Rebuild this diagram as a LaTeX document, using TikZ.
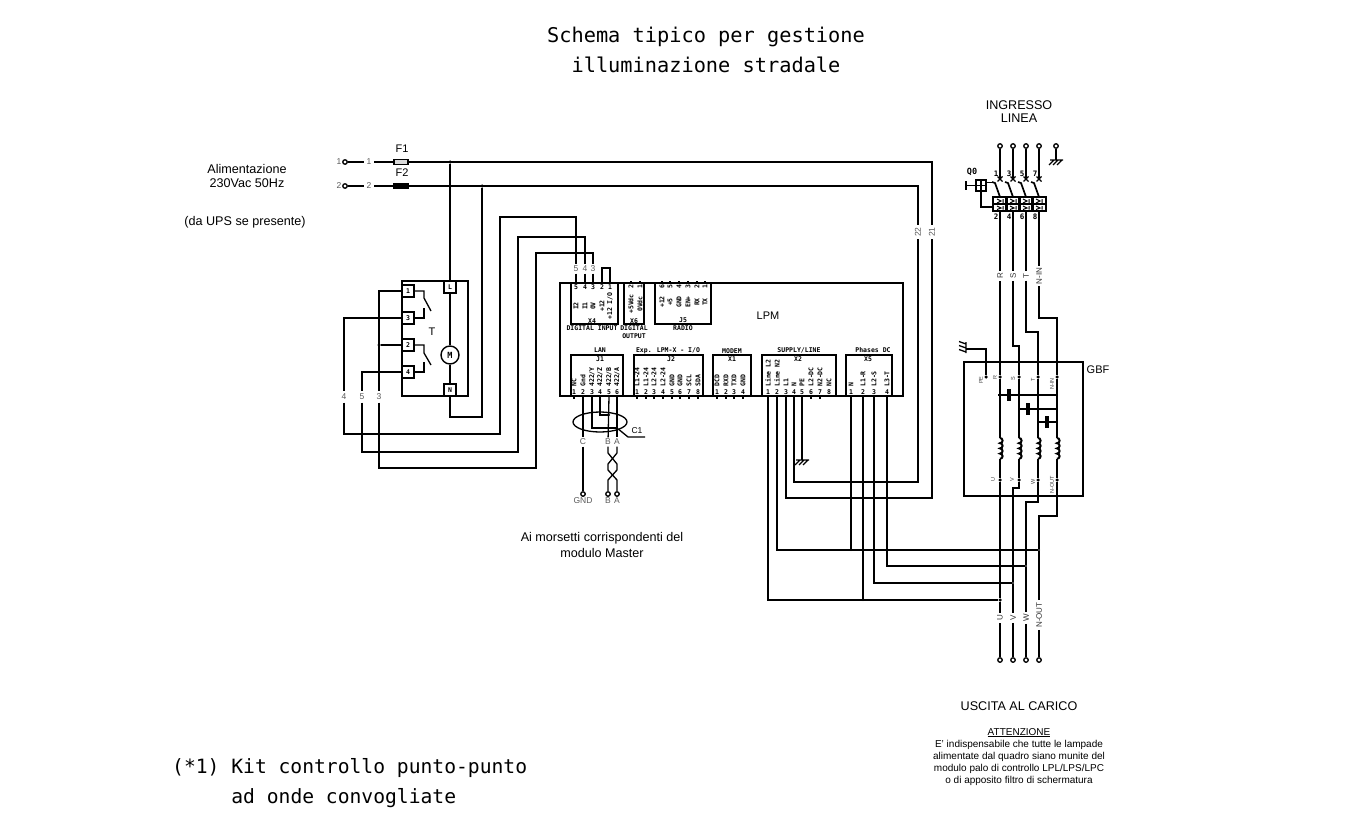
\documentclass[tikz,border=0pt]{standalone}
\usepackage{fontspec}
\setmainfont{Liberation Sans}
\newfontfamily\cadmono{DejaVu Sans Mono}
\usetikzlibrary{arrows.meta,positioning}
\tikzset{
	wire/.style={draw,line width=1.3pt},
	thickwire/.style={draw,line width=1.7pt},
	coilwire/.style={draw,line width=2pt},
	term/.style={circle,draw,fill=white,line width=1.3pt,inner sep=0pt,minimum size=4.5pt},
	jointdot/.style={circle,fill=black,inner sep=0pt,minimum size=3.5pt},
	tinydot/.style={circle,fill=black,inner sep=0pt,minimum size=2.4pt},
	wirelab/.style={font=\fontsize{8.5}{9}\selectfont,text=black!65,inner sep=2.5pt},
	gbflab/.style={font=\fontsize{5.5}{6}\selectfont,text=black!75,rotate=90,inner sep=0pt},
	outlab/.style={font=\fontsize{8}{9}\selectfont,text=black!80,rotate=90,inner sep=2pt},
	pinnum/.style={font=\cadmono\bfseries\fontsize{6.5}{7}\selectfont,inner sep=0pt,minimum height=8pt,minimum width=5pt},
	pinsig/.style={font=\cadmono\bfseries\fontsize{6.5}{7}\selectfont,inner sep=0pt,rotate=90},
	connlab/.style={font=\cadmono\bfseries\fontsize{6.5}{7.8}\selectfont,inner sep=0pt,align=center},
	connbox/.style={draw,line width=1.3pt,rectangle,inner sep=0pt,outer sep=0pt,anchor=north west},
	relterm/.style={draw,line width=1.4pt,fill=white,rectangle,inner sep=0pt,minimum width=12pt,minimum height=12pt,font=\cadmono\bfseries\fontsize{6.5}{7}\selectfont},
	note/.style={font=\fontsize{12.6}{14}\selectfont,align=center,inner sep=0pt},
	smallnote/.style={font=\fontsize{11}{13}\selectfont,align=center,inner sep=0pt},
	cadtext/.style={font=\cadmono\fontsize{20.3}{30}\selectfont,inner sep=0pt,align=center},
	capblock/.style={fill=black,rectangle,inner sep=0pt,minimum width=4.5pt,minimum height=12pt}
}
\newcommand{\earthmark}[1]{\draw[wire,shift={(#1)}] (-6,0) -- (7,0) (-2,0) -- (-7,5) (2,0) -- (-3,5) (6,0) -- (1,5);}
\newcommand{\coilbumps}[1]{\draw[coilwire] (#1) arc (90:-90:2.6pt) arc (90:-90:2.6pt) arc (90:-90:2.6pt) arc (90:-90:2.6pt);}
\begin{document}
\begin{tikzpicture}[x=1pt,y=-1pt]
	\useasboundingbox (0,0) rectangle (1348,827);
	\node[cadtext] (title) at (706,50) {Schema tipico per gestione\\illuminazione stradale};
	\node[cadtext,anchor=north west,align=left,font=\cadmono\fontsize{19.65}{30.5}\selectfont] (kit) at (172,758) {(*1) Kit controllo punto-punto\\\hphantom{(*1) }ad onde convogliate};
	\node[note] (supply) at (247,176) {Alimentazione\\230Vac 50Hz};
	\node[note] (ups) at (245,222) {(da UPS se presente)};
	\node[note,font=\fontsize{12.6}{13}\selectfont] (ingresso) at (1019,112) {INGRESSO\\LINEA};
	\node[note,font=\fontsize{12.6}{16}\selectfont] (master) at (602,545) {Ai morsetti corrispondenti del\\modulo Master};
	\node[note] (uscita) at (1019,706) {USCITA AL CARICO};
	\node[note,font=\fontsize{10}{12.2}\selectfont] (warn) at (1019,757) {\underline{ATTENZIONE}\\E' indispensabile che tutte le lampade\\alimentate dal quadro siano munite del\\modulo palo di controllo LPL/LPS/LPC\\o di apposito filtro di schermatura};
	
	\node[term] (inone) at (345,162) {};
	\node[term] (intwo) at (345,186) {};
	\node[wirelab,left=0pt of inone,inner sep=0.5pt] (inonelab) {1};
	\node[wirelab,left=0pt of intwo,inner sep=0.5pt] (intwolab) {2};
	\node[wirelab] (wone) at (369,162) {1};
	\node[wirelab] (wtwo) at (369,186) {2};
	\node[draw,line width=1.4pt,fill=black!15,rectangle,inner sep=0pt,minimum width=14pt,minimum height=5pt] (fuseone) at (401,162) {};
	\node[draw,line width=1.4pt,fill=black,rectangle,inner sep=0pt,minimum width=14pt,minimum height=5pt] (fusetwo) at (401,186) {};
	\node[smallnote] (fuseonelab) at (402,149) {F1};
	\node[smallnote] (fusetwolab) at (402,173) {F2};
	\node[jointdot] (dotone) at (450,162) {};
	\node[jointdot] (dottwo) at (482,186) {};
	\node[wirelab,rotate=90] (wtwentyone) at (932,232) {21};
	\node[wirelab,rotate=90] (wtwentytwo) at (918,232) {22};
	\draw[wire] (inone) -- (wone);
	\draw[wire] (intwo) -- (wtwo);
	\draw[wire] (wone) -- (fuseone);
	\draw[wire] (wtwo) -- (fusetwo);
	\draw[thickwire] (fuseone) -- (421,162);
	\draw[wire] (fuseone) -- (932,162) -- (wtwentyone);
	\draw[wire] (fusetwo) -- (918,186) -- (wtwentytwo);
	
	\node[connbox,minimum width=66pt,minimum height=115pt] (relay) at (402,281) {};
	\draw[line width=1.7pt] (relay.north west) -- (relay.south west);
	\node[relterm] (rone) at (408,291) {1};
	\node[relterm] (rthree) at (408,318) {3};
	\node[relterm] (rtwo) at (408,345) {2};
	\node[relterm] (rfour) at (408,372) {4};
	\node[relterm] (rel) at (450,287) {L};
	\node[relterm] (ren) at (450,390) {N};
	\node[circle,draw,line width=1.4pt,inner sep=0pt,minimum size=18pt,font=\cadmono\bfseries\fontsize{8.5}{9}\selectfont] (motor) at (450,355) {M};
	\node[smallnote] (relaylab) at (432,332) {T};
	\node[jointdot] (dotrel) at (379,345) {};
	\node[wirelab] (wlfour) at (344,397) {4};
	\node[wirelab] (wlfive) at (362,397) {5};
	\node[wirelab] (wlthree) at (379,397) {3};
	\draw[wire] (dotone) -- (rel);
	\draw[wire] (rel) -- (motor);
	\draw[wire] (motor) -- (ren);
	\draw[wire] (ren) -- (450,417) -| (dottwo);
	\draw[wire] (rone.east) -- (424,291) -- (424,298) -- (431,311);
	\draw[wire] (rthree.east) -- (424,318) -- (424,308);
	\draw[wire] (rtwo.east) -- (424,345) -- (424,353) -- (431,365);
	\draw[wire] (rfour.east) -- (424,372) -- (424,362);
	\draw[wire] (rone.west) -| (wlthree);
	\draw[wire] (rthree.west) -| (wlfour);
	\draw[wire] (rfour.west) -| (wlfive);
	\draw[wire] (rtwo.west) -- (dotrel);
	
	\node[connbox,minimum width=343pt,minimum height=113pt,line width=1.7pt] (lpm) at (560,283) {};
	\node[smallnote] (lpmlab) at (768,316) {LPM};
	\node[connbox,minimum width=47pt,minimum height=41pt] (Xfour) at (571,283) {};
	\node[connbox,minimum width=20pt,minimum height=41pt] (Xsix) at (624,283) {};
	\node[connbox,minimum width=56pt,minimum height=41pt] (Jfive) at (655,283) {};
	\node[connbox,minimum width=52pt,minimum height=41pt] (Jone) at (571,355) {};
	\node[connbox,minimum width=69pt,minimum height=41pt] (Jtwo) at (634,355) {};
	\node[connbox,minimum width=38pt,minimum height=41pt] (Xone) at (713,355) {};
	\node[connbox,minimum width=74pt,minimum height=41pt] (Xtwo) at (762,355) {};
	\node[connbox,minimum width=46pt,minimum height=41pt] (Xfive) at (846,355) {};
	
	\foreach \x/\n/\s in {576/5/I2,585/4/I1,593/3/0V,602/2/+12,610/1/{+12 I/O}} {
		\node[pinnum] (Xfour-\n) at (\x,287) {\n};
		\node[pinsig] (Xfours-\n) at (\x,306) {\s};
	}
	\foreach \x/\n/\s in {631/2/+5Vdc,640/1/0Vdc} {
		\node[pinnum,rotate=90] (Xsix-\n) at (\x,287) {\n};
		\node[pinsig] (Xsixs-\n) at (\x,304) {\s};
		\draw[wire] (\x,283) -- (\x,280.5);
	}
	\foreach \x/\n/\s in {662/6/+12,670/5/+5,679/4/GND,688/3/EN+,697/2/RX,705/1/TX} {
		\node[pinnum,rotate=90] (Jfive-\n) at (\x,287) {\n};
		\node[pinsig] (Jfives-\n) at (\x,302) {\s};
		\draw[wire] (\x,283) -- (\x,280.5);
	}
	\foreach \x/\s [count=\n] in {574/NC,583/Gnd,592/{422/Y},600/{422/Z},609/{422/B},617/{422/A}} {
		\node[pinnum] (Jone-\n) at (\x,392) {\n};
		\node[pinsig,anchor=west] (Jones-\n) at (\x,387) {\s};
	}
	\draw[wire] (574,396) -- (574,398.5);
	\foreach \x/\s [count=\n] in {637/L1-24,646/L1-24,654/L2-24,663/L2-24,672/GND,680/GND,689/SCL,698/SDA} {
		\node[pinnum] (Jtwo-\n) at (\x,392) {\n};
		\node[pinsig,anchor=west] (Jtwos-\n) at (\x,387) {\s};
		\draw[wire] (\x,396) -- (\x,398.5);
	}
	\foreach \x/\s [count=\n] in {717/DCD,726/RXD,734/TXD,743/GND} {
		\node[pinnum] (Xone-\n) at (\x,392) {\n};
		\node[pinsig,anchor=west] (Xones-\n) at (\x,387) {\s};
		\draw[wire] (\x,396) -- (\x,398.5);
	}
	\foreach \x/\s [count=\n] in {768/Line L2,777/Line N2,786/L1,794/N,802/PE,811/L2-DC,820/N2-DC,829/NC} {
		\node[pinnum] (Xtwo-\n) at (\x,392) {\n};
		\node[pinsig,anchor=west] (Xtwos-\n) at (\x,387) {\s};
	}
	\draw[wire] (811,396) -- (811,398.5);
	\draw[wire] (820,396) -- (820,398.5);
	\foreach \x/\s [count=\n] in {851/N,863/L1-R,874/L2-S,887/L3-T} {
		\node[pinnum] (Xfive-\n) at (\x,392) {\n};
		\node[pinsig,anchor=west] (Xfives-\n) at (\x,387) {\s};
	}
	\node[connlab] (Xfourlab) at (592,321) {X4};
	\node[connlab] (Xfourname) at (592,328) {DIGITAL INPUT};
	\node[connlab] (Xsixlab) at (634,321) {X6};
	\node[connlab] (Xsixname) at (634,332) {DIGITAL\\OUTPUT};
	\node[connlab] (Jfivelab) at (683,320) {J5};
	\node[connlab] (Jfivename) at (683,328) {RADIO};
	\node[connlab] (Jonelab) at (600,359) {J1};
	\node[connlab] (Jonename) at (600,350) {LAN};
	\node[connlab] (Jtwolab) at (671,359) {J2};
	\node[connlab] (Jtwoname) at (668,351) {Exp. LPM-X - I/O};
	\node[connlab] (Xonelab) at (732,359) {X1};
	\node[connlab] (Xonename) at (732,351) {MODEM};
	\node[connlab] (Xtwolab) at (798,359) {X2};
	\node[connlab] (Xtwoname) at (799,350) {SUPPLY/LINE};
	\node[connlab] (Xfivelab) at (868,359) {X5};
	\node[connlab] (Xfivename) at (873,350) {Phases DC};
	
	\node[wirelab,inner sep=1.5pt] (wtfive) at (576,269) {5};
	\node[wirelab,inner sep=1.5pt] (wtfour) at (585,269) {4};
	\node[wirelab,inner sep=1.5pt] (wtthree) at (593,269) {3};
	\draw[wire] (wlfour) -- (344,434) -- (500,434) -- (500,217) -| (wtfive);
	\draw[wire] (wlfive) -- (362,452) -- (518,452) -- (518,237) -| (wtfour);
	\draw[wire] (wlthree) -- (379,468) -- (536,468) -- (536,253) -| (wtthree);
	\draw[wire] (wtfive) -- (Xfour-5);
	\draw[wire] (wtfour) -- (Xfour-4);
	\draw[wire] (wtthree) -- (Xfour-3);
	\draw[wire] (Xfour-2.north) -- (602,268) -- (610,268) -- (Xfour-1.north);
	
	\node[wirelab,inner sep=1.5pt] (lanC) at (583,442) {C};
	\node[wirelab,inner sep=1.5pt] (lanB) at (608,442) {B};
	\node[wirelab,inner sep=1.5pt] (lanA) at (617,442) {A};
	\node[term] (outC) at (583,494) {};
	\node[term] (outB) at (608,494) {};
	\node[term] (outA) at (617,494) {};
	\node[wirelab,below=0.5pt of outC,inner sep=0pt] (gndlab) {GND};
	\node[wirelab,below=0.5pt of outB,inner sep=0pt] (blab) {B};
	\node[wirelab,below=0.5pt of outA,inner sep=0pt] (alab) {A};
	\node[tinydot] (dotscreenB) at (609,415) {};
	\node[tinydot] (dotscreenA) at (617,428) {};
	\node[smallnote,font=\fontsize{8.5}{10}\selectfont] (cablelab) at (637,431) {C1};
	\coordinate (cableend) at (645,437);
	\draw[wire] (600,422) ellipse [x radius=27pt,y radius=10pt];
	\draw[wire] (Jone-2.south) -- (lanC);
	\draw[wire] (lanC) -- (outC);
	\draw[wire] (Jone-3.south) |- (dotscreenA);
	\draw[wire] (Jone-4.south) |- (dotscreenB);
	\draw[wire] (Jone-5.south) -- (lanB);
	\draw[wire] (Jone-6.south) -- (lanA);
	\draw[wire] (dotscreenA) -- (628,437) -- (cableend);
	\draw[wire] (lanB) -- (608,453) -- (617,464) -- (617,470) -- (608,480) -- (outB);
	\draw[wire] (lanA) -- (617,453) -- (608,464) -- (608,470) -- (617,480) -- (outA);
	
	\node[jointdot] (jU) at (1000,600) {};
	\node[tinydot] (jV) at (1013,583) {};
	\node[tinydot] (jW) at (1026,566) {};
	\node[tinydot] (jN) at (1039,550) {};
	\node[tinydot] (jfiveN) at (851,550) {};
	\node[tinydot] (jfiveU) at (863,600) {};
	\coordinate (earthtwo) at (802,460);
	\draw[wire] (Xtwo-1.south) |- (jU);
	\draw[wire] (Xtwo-2.south) |- (jN);
	\draw[wire] (wtwentyone) -- (932,498) -| (Xtwo-3.south);
	\draw[wire] (wtwentytwo) -- (918,482) -| (Xtwo-4.south);
	\draw[wire] (Xtwo-5.south) -- (earthtwo);
	\earthmark{earthtwo}
	\draw[wire] (Xfive-1.south) -- (jfiveN);
	\draw[wire] (Xfive-2.south) -- (jfiveU);
	\draw[wire] (Xfive-3.south) |- (jV);
	\draw[wire] (Xfive-4.south) |- (jW);
	
	\foreach \x/\n/\t/\b [count=\i] in {1000/1/2/R,1013/3/4/S,1026/5/6/T,1039/7/8/N-IN} {
		\node[term] (in\i) at (\x,146) {};
		\node[connlab,font=\cadmono\bfseries\fontsize{7.5}{8}\selectfont] (qtop\i) at (\x-4,174) {\n};
		\node[connlab,font=\cadmono\bfseries\fontsize{7.5}{8}\selectfont] (qbot\i) at (\x-4,217) {\t};
		\node[outlab] (line\i) at (\x,276) {\b};
		\coordinate (qa\i) at (\x,179);
		\coordinate (qb\i) at (\x,197);
		\coordinate (qc\i) at (\x,211);
		\draw[wire] (in\i) -- (qa\i);
		\draw[wire] (\x-2.5,176.5) -- (\x+2.5,181.5) (\x-2.5,181.5) -- (\x+2.5,176.5);
		\draw[thickwire] (\x-8,182) -- (\x-5,183) -- (qb\i);
		\draw[line width=1.4pt] (\x-7,197) rectangle (\x+7,211);
		\draw[line width=1.2pt] (\x-7,204) -- (\x+7,204);
		\draw[line width=1pt] (\x-3,199) -- (\x+1,201) -- (\x-3,203) (\x+3,199) -- (\x+3,203) (\x-3,206) -- (\x+1,208) -- (\x-3,209.5) (\x+3,206) -- (\x+3,209.5);
		\draw[wire] (qc\i) -- (line\i);
	}
	\node[connlab,font=\cadmono\bfseries\fontsize{8.5}{9}\selectfont] (qzero) at (972,172) {Q0};
	\node[draw,line width=1.3pt,rectangle,inner sep=0pt,minimum width=10pt,minimum height=11pt] (qknob) at (981,185.5) {};
	\coordinate (qstem) at (966,185.5);
	\draw[wire] (qknob) -- (qstem);
	\draw[wire] (966,181) -- (966,190);
	\draw[wire] (qknob.north) -- (qknob.south) (qknob.west) -- (qknob.east);
	\draw[wire] (qknob.south) |- (993,207);
	\draw[wire] (qknob.east) ++(0,-3) -- (992,182.5);
	\node[term] (pegnd) at (1056,146) {};
	\coordinate (earthone) at (1056,160);
	\draw[wire] (pegnd) -- (earthone);
	\earthmark{earthone}
	
	\node[connbox,minimum width=119pt,minimum height=134pt] (gbf) at (964,362) {};
	\node[smallnote] (gbflab) at (1098,370) {GBF};
	\foreach \x/\a/\b [count=\i] in {1000/R/U,1019/S/V,1038/T/W,1057/N/O} {
		\node[jointdot] (gin\i) at (\x,377) {};
		\node[jointdot] (gout\i) at (\x,480) {};
		\coordinate (coilt\i) at (\x,438);
		\coordinate (coilb\i) at (\x,458.8);
		\coilbumps{coilt\i}
		\draw[wire] (gin\i) -- (coilt\i);
		\draw[wire] (coilb\i) -- (gout\i);
	}
	\foreach \x/\y/\s in {995/378/R,1013/379/S,1033/380/T,1052/384/N-IN,981/380/PE,993/480/U,1012/480/V,1033/482/W,1052/485/N-OUT} {
		\node[gbflab] (gl\s) at (\x,\y) {\s};
	}
	\draw[wire] (line1) -- (gin1);
	\draw[wire] (line2) -- (1013,346) -- (1019,346) -- (gin2);
	\draw[wire] (line3) -- (1026,332) -- (1038,332) -- (gin3);
	\draw[wire] (line4) -- (1039,318) -- (1057,318) -- (gin4);
	\node[jointdot] (gpe) at (986,377) {};
	\coordinate (earththree) at (966,349);
	\draw[wire] (gpe) |- (earththree);
	\draw[wire] (966,342) -- (966,353) (966,344) -- (959,341.5) (966,348) -- (959,345.5) (966,352) -- (959,349.5);
	\node[capblock] (capone) at (1009,395) {};
	\node[capblock] (captwo) at (1028,409) {};
	\node[capblock] (capthree) at (1047,422) {};
	\draw[wire] (998,395) -- (capone) -- (1057,395);
	\draw[wire] (1018,409) -- (captwo) -- (1057,409);
	\draw[wire] (1037,422) -- (capthree) -- (1057,422);
	
	\foreach \x/\s [count=\i] in {1000/U,1013/V,1026/W,1039/N-OUT} {
		\node[outlab] (load\i) at (\x,\ifnum\i=4 615\else 618\fi) {\s};
		\node[term] (out\i) at (\x,660) {};
		\draw[wire] (load\i) -- (out\i);
	}
	\draw[wire] (gout1) -- (jU);
	\draw[wire] (jU) -- (load1);
	\draw[wire] (gout2) -- (1019,488) -- (1013,488) -- (jV);
	\draw[wire] (jV) -- (load2);
	\draw[wire] (gout3) -- (1038,502) -- (1026,502) -- (jW);
	\draw[wire] (jW) -- (load3);
	\draw[wire] (gout4) -- (1057,516) -- (1039,516) -- (jN);
	\draw[wire] (jN) -- (load4);
\end{tikzpicture}
\end{document}
